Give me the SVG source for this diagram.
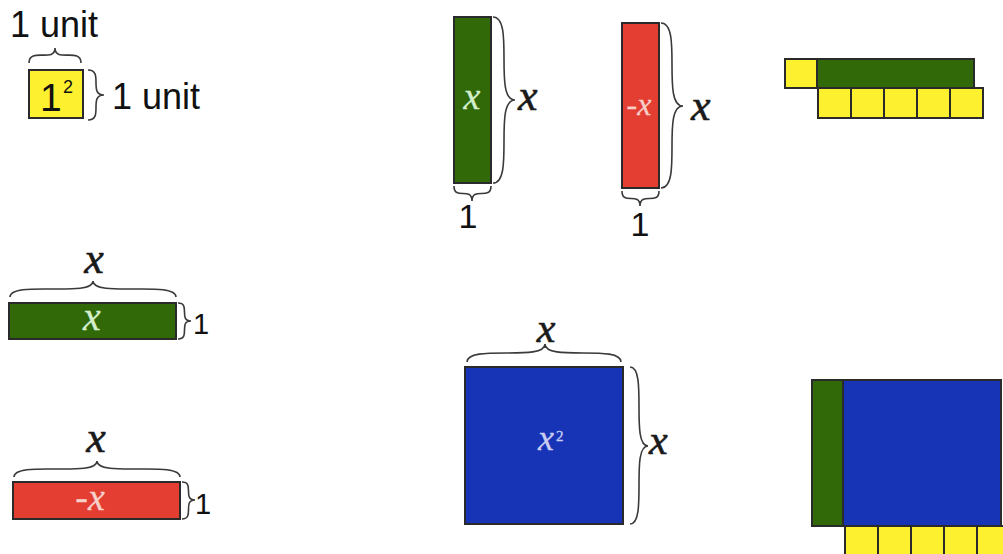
<svg xmlns="http://www.w3.org/2000/svg" width="1003" height="554" viewBox="0 0 1003 554">
<style>
.tile{stroke:#2a2a2a;stroke-width:2}
.yel{fill:#fdf02f}
.grn{fill:#316808}
.red{fill:#e43d31}
.blu{fill:#1733b6}
.brace{fill:none;stroke:#3a3a3a;stroke-width:1.6}
.sans{font-family:"Liberation Sans",Arial,sans-serif;fill:#111}
.mx{font-family:"Liberation Serif","Times New Roman",serif;font-style:italic;fill:#1a1a1a;stroke:#1a1a1a;stroke-width:0.6}
.lg{fill:#d4efcc;stroke:#d4efcc;stroke-width:0.3}
.lr{fill:#f8d0ca;stroke:#f8d0ca;stroke-width:0.3}
.lb{fill:#c9cdf4;stroke:#c9cdf4;stroke-width:0.3}
</style>
<rect width="1003" height="554" fill="#ffffff"/>

<g id="unit-square">
  <rect class="tile yel" x="29" y="70" width="54" height="48"/>
  <text class="sans" x="40" y="111" font-size="39">1</text>
  <text class="sans" x="63" y="93" font-size="18">2</text>
  <path class="brace" d="M29,63 C29,47 55,63 55,48 C55,63 81,47 81,63"/>
  <text class="sans" x="10" y="37" font-size="36">1 unit</text>
  <path class="brace" d="M88,70 C104,70 88,95 104,95 C88,95 104,120 88,120"/>
  <text class="sans" x="112" y="109" font-size="36">1 unit</text>
</g>

<g id="green-vertical">
  <rect class="tile grn" x="454" y="17" width="37" height="166"/>
  <text class="mx lg" x="472" y="109" font-size="38" text-anchor="middle">x</text>
  <path class="brace" d="M493,17 C515,17 493,100 515,100 C493,100 515,183 493,183"/>
  <text class="mx" x="518" y="110" font-size="44">x</text>
  <path class="brace" d="M454,186 C454,201 472,186 472,201 C472,186 491,201 491,186"/>
  <text class="sans" x="468" y="228" font-size="34" text-anchor="middle">1</text>
</g>

<g id="red-vertical">
  <rect class="tile red" x="622" y="23" width="37" height="165"/>
  <text class="mx lr" x="639" y="115" font-size="32" text-anchor="middle">-x</text>
  <path class="brace" d="M661,23 C683,23 661,106 683,106 C661,106 683,188 661,188"/>
  <text class="mx" x="691" y="120" font-size="44">x</text>
  <path class="brace" d="M622,191 C622,206 640,191 640,206 C640,191 659,206 659,191"/>
  <text class="sans" x="640" y="236" font-size="34" text-anchor="middle">1</text>
</g>

<g id="combo-top">
  <rect class="tile yel" x="785" y="59" width="32" height="29"/>
  <rect class="tile grn" x="817" y="59" width="157" height="29"/>
  <rect class="tile yel" x="818" y="88" width="33" height="30"/>
  <rect class="tile yel" x="851" y="88" width="33" height="30"/>
  <rect class="tile yel" x="884" y="88" width="33" height="30"/>
  <rect class="tile yel" x="917" y="88" width="33" height="30"/>
  <rect class="tile yel" x="950" y="88" width="33" height="30"/>
</g>

<g id="green-horizontal">
  <rect class="tile grn" x="9" y="303" width="167" height="36"/>
  <text class="mx lg" x="92" y="330" font-size="40" text-anchor="middle">x</text>
  <path class="brace" d="M10,297 C10,280 93,298 93,281 C93,298 176,280 176,297"/>
  <text class="mx" x="94" y="273" font-size="44" text-anchor="middle">x</text>
  <path class="brace" d="M178,303 C191,303 178,321 191,321 C178,321 191,339 178,339"/>
  <text class="sans" x="193" y="334" font-size="29">1</text>
</g>

<g id="red-horizontal">
  <rect class="tile red" x="13" y="482" width="167" height="37"/>
  <text class="mx lr" x="90" y="510" font-size="38" text-anchor="middle">-x</text>
  <path class="brace" d="M14,477 C14,460 97,478 97,461 C97,478 180,460 180,477"/>
  <text class="mx" x="96" y="452" font-size="44" text-anchor="middle">x</text>
  <path class="brace" d="M182,482 C195,482 182,500 195,500 C182,500 195,519 182,519"/>
  <text class="sans" x="195" y="514" font-size="29">1</text>
</g>

<g id="blue-square">
  <rect class="tile blu" x="465" y="367" width="158" height="157"/>
  <text class="mx lb" x="546" y="450" font-size="36" text-anchor="middle">x</text>
  <text class="lb" x="556" y="441" font-size="15" font-family="Liberation Serif,serif">2</text>
  <path class="brace" d="M467,362 C467,344 545,362 545,344 C545,362 621,344 621,362"/>
  <text class="mx" x="546" y="342" font-size="42" text-anchor="middle">x</text>
  <path class="brace" d="M630,367 C648,367 630,446 648,446 C630,446 648,524 630,524"/>
  <text class="mx" x="649" y="454" font-size="42">x</text>
</g>

<g id="combo-bottom">
  <rect class="tile grn" x="812" y="380" width="31" height="146"/>
  <rect class="tile blu" x="843" y="380" width="158" height="146"/>
  <rect class="tile yel" x="845" y="526" width="33" height="30"/>
  <rect class="tile yel" x="878" y="526" width="33" height="30"/>
  <rect class="tile yel" x="911" y="526" width="33" height="30"/>
  <rect class="tile yel" x="944" y="526" width="33" height="30"/>
  <rect class="tile yel" x="977" y="526" width="33" height="30"/>
</g>

<g id="connectors"/>
</svg>
